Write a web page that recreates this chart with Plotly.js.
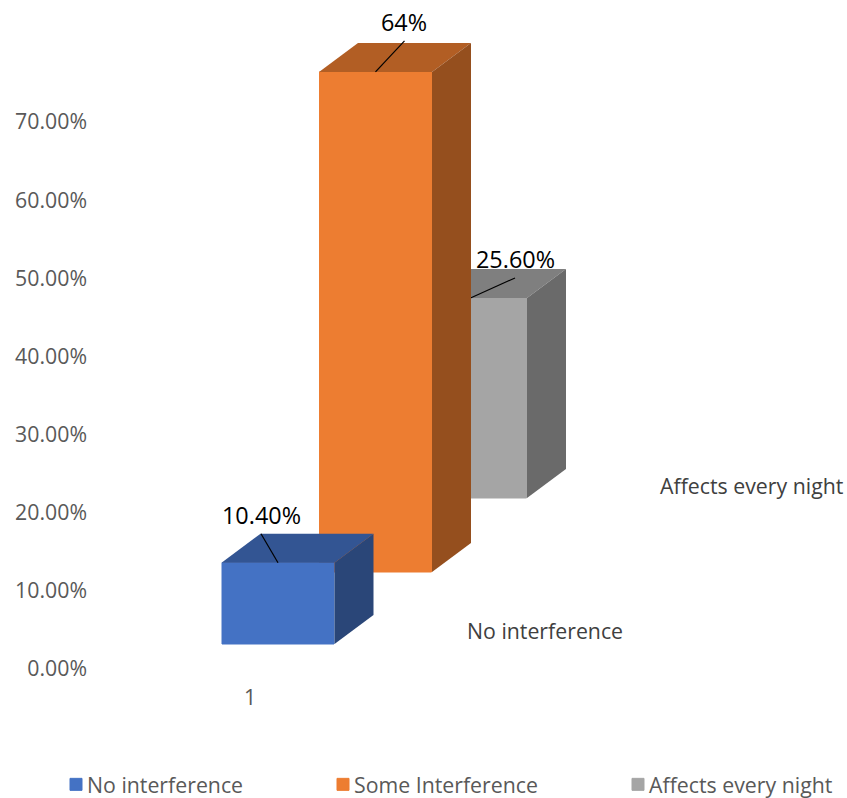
<!DOCTYPE html>
<html>
<head>
<meta charset="utf-8">
<script src="https://cdn.plot.ly/plotly-3.0.0.min.js"></script>
<style>html,body{margin:0;padding:0;background:#fff}#chart{width:847px;height:798px}</style>
</head>
<body>
<div id="chart"></div>
<script>
// Survey results, one group of three columns
const seriesNames = ['No interference', 'Some Interference', 'Affects every night'];
const seriesValues = [0.104, 0.64, 0.256];
const valueLabels = ['10.40%', '64%', '25.60%'];
const categoryLabels = ['1'];
const depthLabels = ['No interference', 'Affects every night'];
const tickValues = [0, 0.1, 0.2, 0.3, 0.4, 0.5, 0.6, 0.7];

// Geometry of the fake 3D view
const WIDTH = 847, HEIGHT = 798;
const PLOT_LEFT = 88, ZERO_PX = 667, PX_PER_UNIT = 781.4;
const toVal = px => px / PX_PER_UNIT;
const yRange = [toVal(ZERO_PX - HEIGHT), toVal(ZERO_PX)];
const DEPTH_X = 39, DEPTH_Y = toVal(29), BAR_W = 113;

const look = [
  {center: 278, floor: toVal(23), front: '#4472c4', top: '#335593', side: '#2a4678',
   leader: [-17, toVal(29)], label: [261, toVal(152)]},
  {center: 375.5, floor: toVal(95), front: '#ed7d31', top: '#b25e24', side: '#954f1e',
   leader: [29, toVal(31)], label: [404, toVal(645)]},
  {center: 470.5, floor: toVal(169), front: '#a5a5a5', top: '#7f7f7f', side: '#6a6a6a',
   leader: [44.5, toVal(20)], label: [515, toVal(408)]}
];

const axisSuffix = ['3', '2', ''];   // nearest column sits on the top-most overlay
const traces = [];
const annotations = [];
const legendTextX = [47, 314, 609];
const legendIds = ['legend', 'legend2', 'legend3'];
const textFont = {family: 'Open Sans', size: 21.3, color: '#595959'};

// Back-to-front so the nearer columns cover the farther ones
[2, 1, 0].forEach(i => {
  const s = look[i], v = seriesValues[i], sfx = axisSuffix[i];
  const xa = 'x' + sfx, ya = 'y' + sfx;
  const l = s.center - BAR_W / 2, r = s.center + BAR_W / 2;
  const b = s.floor, t = s.floor + v;

  traces.push({
    type: 'bar', name: seriesNames[i], x: [s.center], y: [v], base: [s.floor], width: [BAR_W - 1],
    marker: {color: s.front, line: {color: s.front, width: 1}},
    xaxis: xa, yaxis: ya, legend: legendIds[i], hoverinfo: 'skip'
  });
  // top face
  traces.push({
    type: 'scatter', mode: 'lines', fill: 'toself', fillcolor: s.top, line: {width: 0},
    x: [l, l + DEPTH_X, r + DEPTH_X, r, l], y: [t, t + DEPTH_Y, t + DEPTH_Y, t, t],
    xaxis: xa, yaxis: ya, showlegend: false, hoverinfo: 'skip'
  });
  // side face
  traces.push({
    type: 'scatter', mode: 'lines', fill: 'toself', fillcolor: s.side, line: {width: 0},
    x: [r, r + DEPTH_X, r + DEPTH_X, r, r], y: [t, t + DEPTH_Y, b + DEPTH_Y, b, t],
    xaxis: xa, yaxis: ya, showlegend: false, hoverinfo: 'skip'
  });
  // leader from the column top up to its value label
  traces.push({
    type: 'scatter', mode: 'lines', line: {color: '#000000', width: 1.2},
    x: [s.center, s.center + s.leader[0]], y: [t, t + s.leader[1]],
    xaxis: xa, yaxis: ya, showlegend: false, hoverinfo: 'skip'
  });
  annotations.push({
    x: s.label[0], y: s.label[1], xref: 'x', yref: 'y', text: valueLabels[i], showarrow: false,
    xanchor: 'center', yanchor: 'middle', font: {family: 'Open Sans', size: 23.4, color: '#000000'}
  });
});

annotations.push(
  {x: 544.5, y: toVal(37), xref: 'x', yref: 'y', text: depthLabels[0], showarrow: false,
   xanchor: 'center', yanchor: 'middle', font: {...textFont, color: '#404040'}},
  {x: 752, y: toVal(182), xref: 'x', yref: 'y', text: depthLabels[1], showarrow: false,
   xanchor: 'center', yanchor: 'middle', font: {...textFont, color: '#404040'}}
);

const xRange = [PLOT_LEFT, WIDTH];
const LEGEND_TOP = 757, LEGEND_DROP = 7;
const legendFor = px => ({
  orientation: 'h', x: (px - PLOT_LEFT) / (WIDTH - PLOT_LEFT), xanchor: 'left',
  y: (HEIGHT - LEGEND_TOP) / HEIGHT, yanchor: 'top', bgcolor: 'rgba(0,0,0,0)',
  font: textFont, itemclick: false, itemdoubleclick: false
});
const hiddenX = {overlaying: 'x', range: xRange, visible: false, fixedrange: true};
const hiddenY = {range: yRange, visible: false, fixedrange: true};

const layout = {
  width: WIDTH, height: HEIGHT,
  margin: {l: PLOT_LEFT, r: 0, t: 0, b: 0, pad: 0},
  paper_bgcolor: '#ffffff', plot_bgcolor: 'rgba(0,0,0,0)',
  font: {family: 'Open Sans', color: '#595959'},
  hovermode: false,
  barmode: 'overlay',
  xaxis: {range: xRange, tickmode: 'array', tickvals: [250], ticktext: categoryLabels, showgrid: false,
          zeroline: false, showline: false, ticks: '', anchor: 'free', position: (HEIGHT - ZERO_PX) / HEIGHT,
          ticklabelstandoff: 16, tickfont: textFont, fixedrange: true},
  yaxis: {range: yRange, tickmode: 'array', tickvals: tickValues, tickformat: '.2%', showgrid: false,
          zeroline: false, showline: false, ticks: '', ticklabelshift: 2, tickfont: textFont, fixedrange: true},
  xaxis2: {...hiddenX, anchor: 'y2'},
  yaxis2: {...hiddenY, overlaying: 'y', anchor: 'x2'},
  xaxis3: {...hiddenX, anchor: 'y3'},
  yaxis3: {...hiddenY, overlaying: 'y', anchor: 'x3'},
  legend: legendFor(legendTextX[0]),
  legend2: legendFor(legendTextX[1]),
  legend3: legendFor(legendTextX[2]),
  annotations: annotations
};

Plotly.newPlot('chart', traces, layout, {displayModeBar: false, staticPlot: true}).then(gd => {
  // Tighten the gap between each legend swatch and its text
  gd.querySelectorAll('.legendsymbols').forEach(g => g.setAttribute('transform', 'translate(9,0)'));
  // Settle the legend row close to the bottom edge without shrinking the plot area
  gd.querySelectorAll('.legend, .legend2, .legend3').forEach(g => {
    const m = /translate\(([-\d.]+),\s*([-\d.]+)\)/.exec(g.getAttribute('transform'));
    if (m) g.setAttribute('transform', `translate(${m[1]},${+m[2] + LEGEND_DROP})`);
  });
});
</script>
</body>
</html>
